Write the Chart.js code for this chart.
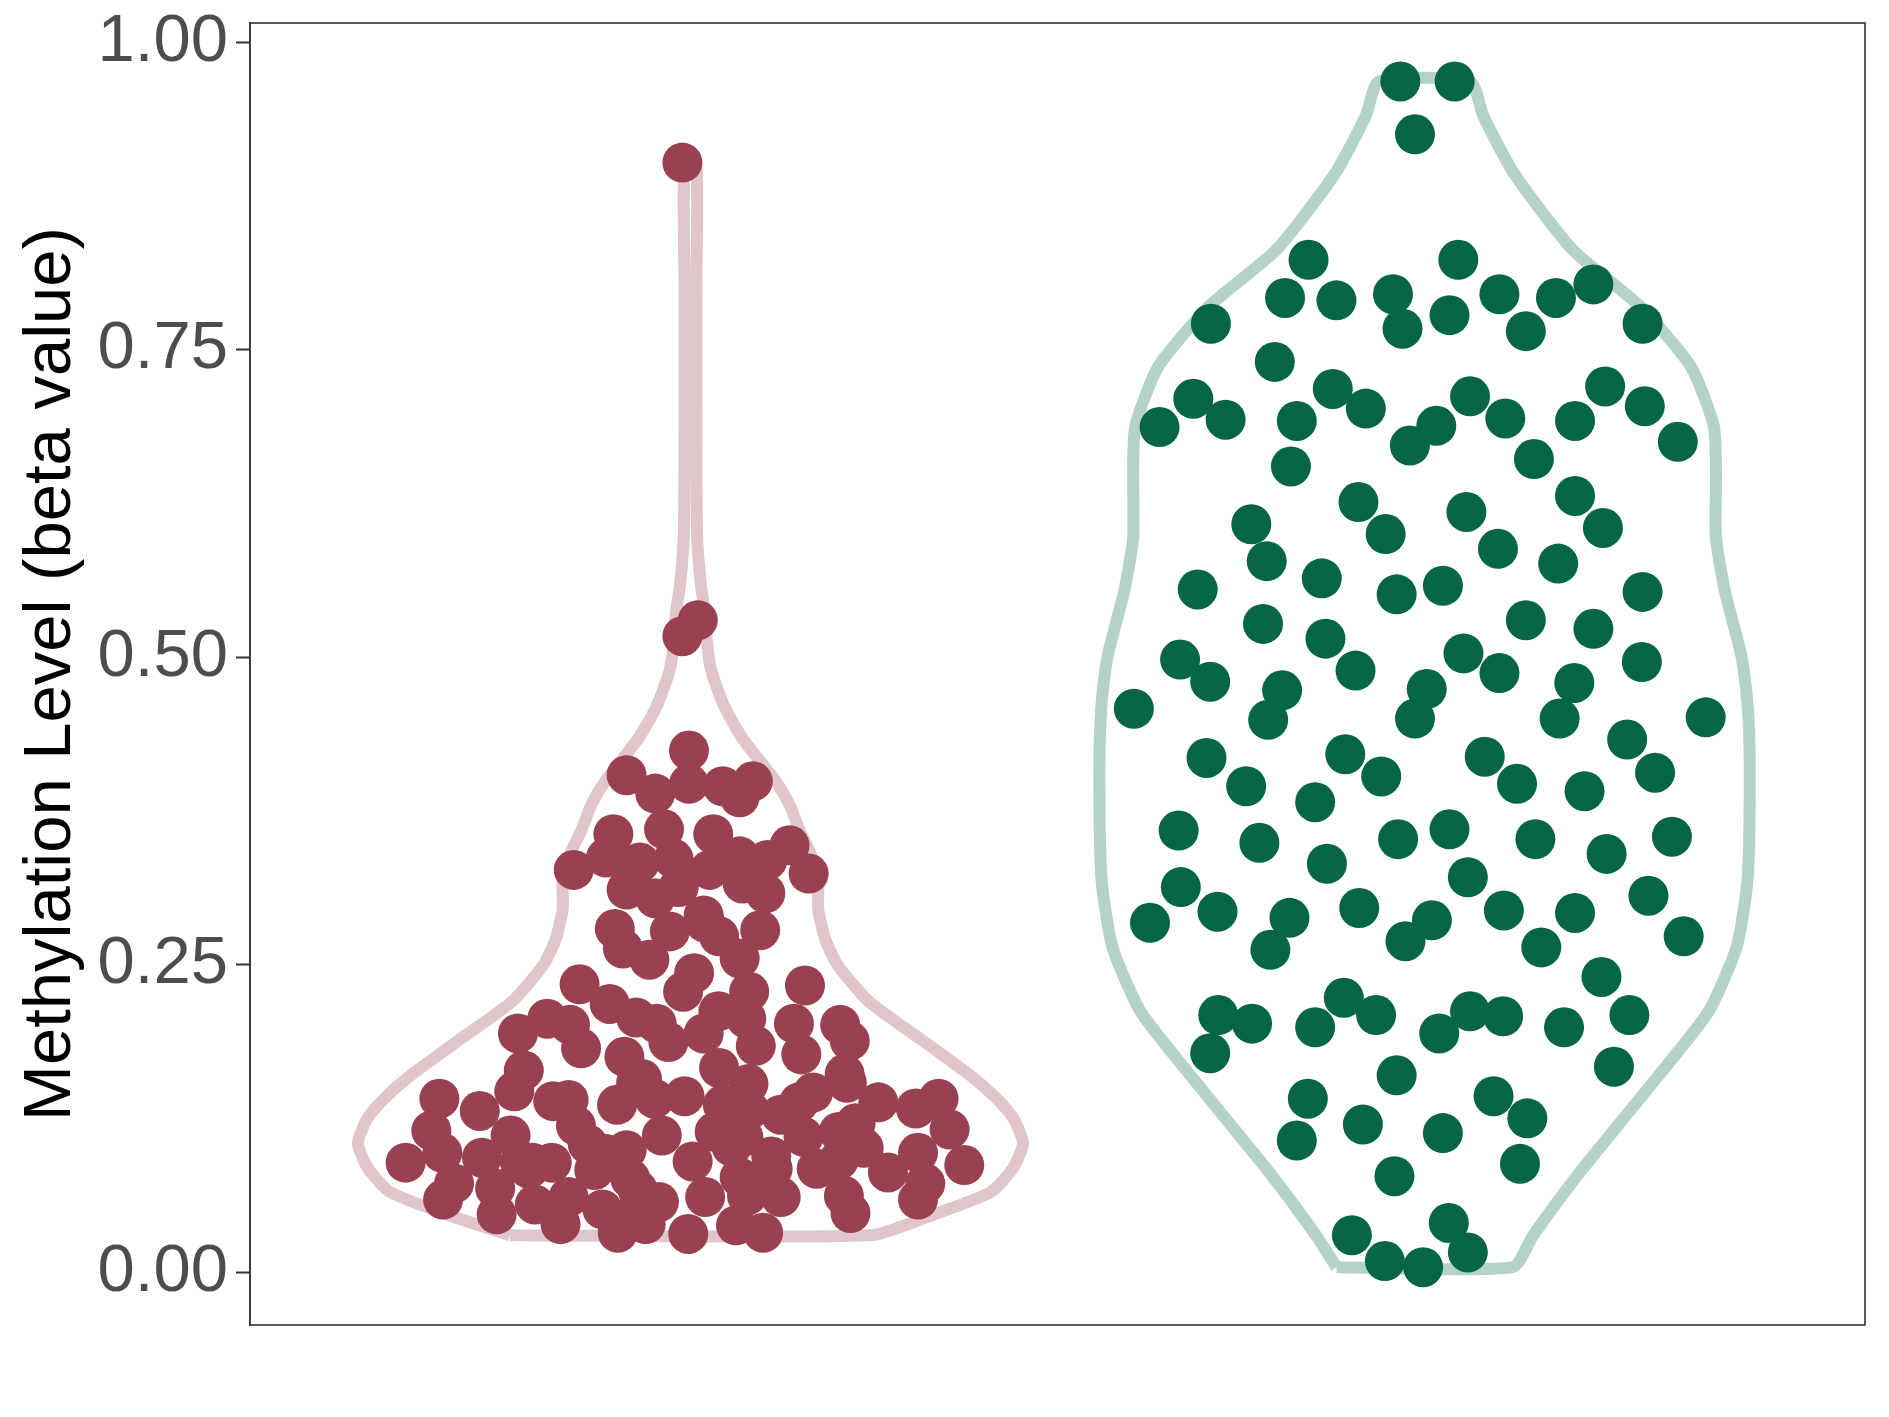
<!DOCTYPE html>
<html>
<head>
<meta charset="utf-8">
<script src="https://cdn.jsdelivr.net/npm/chart.js@4.4.1/dist/chart.umd.min.js"></script>
<style>
  html, body { margin: 0; padding: 0; background: #ffffff; }
</style>
</head>
<body>
<canvas id="graficoViolino" width="1889" height="1417"></canvas>
<script>
// valores de metilação (beta) e deslocamento horizontal (jitter) de cada ponto
const redBeta = [
  0.902,0.517,0.530,0.424,0.404,0.389,0.397,0.395,0.399,0.386,
  0.360,0.356,0.356,0.347,0.337,0.333,0.336,0.338,0.335,0.327,
  0.324,0.327,0.311,0.304,0.316,0.308,0.279,0.277,0.284,0.273,
  0.278,0.263,0.254,0.255,0.243,0.234,0.228,0.228,0.233,0.218,
  0.207,0.212,0.206,0.201,0.202,0.206,0.202,0.201,0.194,0.182,
  0.175,0.187,0.194,0.184,0.177,0.188,0.166,0.164,0.157,0.161,
  0.147,0.140,0.136,0.141,0.143,0.153,0.146,0.138,0.141,0.131,
  0.139,0.136,0.132,0.128,0.138,0.133,0.141,0.119,0.111,0.115,
  0.121,0.116,0.104,0.111,0.114,0.110,0.110,0.114,0.101,0.097,
  0.093,0.089,0.096,0.099,0.102,0.094,0.089,0.072,0.068,0.084,
  0.089,0.083,0.076,0.090,0.077,0.084,0.084,0.081,0.097,0.087,
  0.072,0.059,0.047,0.055,0.061,0.051,0.067,0.057,0.061,0.062,
  0.061,0.062,0.059,0.039,0.032,0.039,0.031,0.038,0.032,0.048,
  0.052,0.313,0.290,0.089,0.091,0.154,0.154
];
const redJitter = [
  -0.011,-0.011,0.010,-0.002,-0.087,-0.048,-0.002,0.044,0.085,0.067,
  -0.036,-0.105,0.031,0.135,-0.115,-0.069,-0.023,0.067,0.105,-0.159,
  0.161,0.026,-0.087,-0.048,0.071,0.102,-0.103,-0.028,0.020,0.039,
  0.095,-0.092,-0.056,0.067,0.005,-0.151,-0.010,0.080,0.156,-0.110,
  -0.074,0.038,-0.195,-0.164,-0.046,0.076,0.141,0.204,-0.235,-0.149,
  -0.090,-0.030,0.018,0.089,0.151,0.217,0.039,-0.227,-0.066,0.210,
  -0.240,-0.166,-0.100,-0.049,-0.008,0.079,0.167,0.256,-0.342,-0.287,
  -0.187,0.044,0.080,0.123,0.148,0.307,0.338,-0.156,-0.245,-0.353,
  0.225,0.353,-0.140,-0.039,0.033,0.072,0.154,0.202,0.236,-0.338,
  -0.284,-0.215,-0.115,-0.087,0.056,0.110,-0.388,-0.322,-0.266,-0.220,
  -0.189,-0.131,-0.082,0.003,0.067,0.112,0.172,0.269,0.310,0.373,
  0.320,-0.337,-0.264,-0.212,-0.166,-0.120,-0.072,-0.043,0.020,0.077,
  0.123,0.209,0.310,-0.177,-0.099,-0.061,-0.003,0.062,0.099,0.218,
  -0.071,-0.016,0.018,-0.232,0.202,-0.074,0.213
];

const greenBeta = [
  0.968,0.968,0.925,0.823,0.823,0.792,0.790,0.795,0.795,0.792,
  0.803,0.771,0.767,0.778,0.765,0.771,0.740,0.710,0.718,0.693,
  0.687,0.692,0.702,0.712,0.694,0.720,0.692,0.704,0.655,0.672,
  0.688,0.675,0.661,0.626,0.618,0.631,0.608,0.600,0.605,0.578,
  0.588,0.576,0.564,0.555,0.551,0.558,0.553,0.527,0.530,0.523,
  0.515,0.498,0.489,0.503,0.487,0.496,0.480,0.473,0.474,0.479,
  0.458,0.449,0.450,0.450,0.451,0.433,0.418,0.421,0.419,0.403,
  0.406,0.395,0.397,0.391,0.382,0.359,0.360,0.349,0.352,0.352,
  0.354,0.340,0.332,0.313,0.321,0.306,0.293,0.296,0.294,0.292,
  0.284,0.288,0.286,0.269,0.264,0.273,0.262,0.240,0.223,0.209,
  0.209,0.212,0.208,0.209,0.202,0.199,0.194,0.199,0.178,0.167,
  0.160,0.141,0.143,0.125,0.120,0.113,0.107,0.088,0.078,0.030,
  0.040,0.009,0.004,0.016
];
const greenJitter = [
  -0.033,0.041,-0.013,-0.158,0.046,-0.190,-0.120,-0.043,0.102,0.179,
  0.230,-0.291,-0.030,0.034,0.138,0.297,-0.204,-0.315,-0.125,-0.271,
  -0.361,-0.174,-0.080,0.062,0.110,0.246,0.205,0.300,-0.182,-0.020,
  0.016,0.345,0.149,-0.090,0.057,0.205,-0.236,-0.053,0.243,-0.215,
  0.100,0.182,-0.140,-0.309,-0.038,0.025,0.297,-0.220,0.138,0.230,
  -0.135,-0.333,-0.094,0.053,0.102,0.296,-0.292,-0.194,0.003,0.204,
  -0.396,-0.213,-0.013,0.184,0.383,0.276,-0.297,-0.108,0.082,-0.059,
  0.314,-0.243,0.126,0.218,-0.149,-0.335,0.034,-0.225,-0.036,0.151,
  0.337,0.248,-0.133,-0.332,0.059,0.305,-0.282,-0.089,0.108,0.205,
  -0.374,-0.184,0.010,-0.026,0.159,0.353,-0.210,0.241,-0.110,-0.281,
  -0.066,0.062,0.107,0.279,-0.235,-0.149,0.020,0.190,-0.292,0.258,
  -0.038,-0.159,0.094,0.140,-0.084,0.025,-0.174,0.130,-0.041,-0.099,
  0.033,-0.054,-0.002,0.059
];

// contorno dos violinos: níveis de beta e meia-largura da densidade
const redLevels = [0.030,0.045,0.065,0.085,0.105,0.125,0.140,0.160,0.190,0.220,0.250,0.270,0.295,0.320,0.340,0.360,0.380,0.400,0.433,0.460,0.490,0.515,0.535,0.560,0.600,0.700,0.800,0.902];
const redHalf   = [0.246,0.323,0.409,0.440,0.453,0.440,0.419,0.381,0.312,0.243,0.200,0.184,0.174,0.174,0.164,0.148,0.135,0.115,0.072,0.046,0.028,0.022,0.020,0.014,0.009,0.008,0.008,0.008];

const greenLevels = [0.004,0.030,0.080,0.146,0.211,0.264,0.319,0.408,0.462,0.500,0.554,0.597,0.652,0.688,0.736,0.785,0.831,0.893,0.940,0.968];
const greenHalf   = [0.120,0.148,0.210,0.300,0.386,0.425,0.440,0.443,0.440,0.432,0.409,0.397,0.397,0.394,0.363,0.294,0.202,0.122,0.080,0.062];

const yTicks = [0, 0.25, 0.5, 0.75, 1];
const fonte = "'Liberation Sans', Arial, Helvetica, sans-serif";

function pontos(centro, beta, jitter) {
    return beta.map((v, i) => ({ x: centro + jitter[i], y: v }));
}

function contorno(centro, niveis, meia) {
    let lado = [];
    for (let i = 0; i < niveis.length; i++) {
        lado.push({ x: centro - meia[i], y: niveis[i] });
    }
    for (let i = niveis.length - 1; i >= 0; i--) {
        lado.push({ x: centro + meia[i], y: niveis[i] });
    }
    lado.push(lado[0]);
    return lado;
}

// moldura em volta da área do gráfico
const moldura = {
    id: 'moldura',
    afterDatasetsDraw(chart) {
        const { ctx, chartArea: a } = chart;
        ctx.save();
        ctx.strokeStyle = '#333333';
        ctx.lineWidth = 1.6;
        ctx.strokeRect(a.left, a.top, a.right - a.left, a.bottom - a.top);
        ctx.restore();
    }
};

const ctx = document.getElementById('graficoViolino').getContext('2d');
new Chart(ctx, {
    type: 'scatter',
    data: {
        datasets: [
            {
                data: pontos(1, redBeta, redJitter),
                pointRadius: 20,
                pointBackgroundColor: '#9a4151',
                pointBorderColor: '#9a4151',
                pointBorderWidth: 0,
                showLine: false,
                order: 0
            },
            {
                data: pontos(2, greenBeta, greenJitter),
                pointRadius: 20,
                pointBackgroundColor: '#046644',
                pointBorderColor: '#046644',
                pointBorderWidth: 0,
                showLine: false,
                order: 0
            },
            {
                data: contorno(1, redLevels, redHalf),
                showLine: true,
                borderColor: '#e0c5cb',
                borderWidth: 12,
                borderJoinStyle: 'round',
                pointRadius: 0,
                tension: 0.2,
                fill: false,
                order: 1
            },
            {
                data: contorno(2, greenLevels, greenHalf),
                showLine: true,
                borderColor: '#b5d2c7',
                borderWidth: 12,
                borderJoinStyle: 'round',
                pointRadius: 0,
                tension: 0.2,
                fill: false,
                order: 1
            }
        ]
    },
    options: {
        responsive: false,
        animation: false,
        devicePixelRatio: 1,
        events: [],
        layout: { padding: { top: 23, right: 24, bottom: 92, left: 0 } },
        plugins: {
            legend: { display: false },
            tooltip: { enabled: false }
        },
        scales: {
            x: {
                type: 'linear',
                min: 0.4,
                max: 2.6,
                display: false
            },
            y: {
                type: 'linear',
                min: -0.043,
                max: 1.0155,
                afterBuildTicks: (s) => { s.ticks = yTicks.map(v => ({ value: v })); },
                afterFit: (s) => {
                    s.width = 250;
                    s.paddingTop = 0;
                    s.paddingBottom = 0;
                },
                ticks: {
                    callback: (v) => Number(v).toFixed(2),
                    font: { family: fonte, size: 67 },
                    color: '#4d4d4d',
                    padding: 8
                },
                grid: {
                    drawOnChartArea: false,
                    tickLength: 14,
                    tickWidth: 2,
                    color: '#333333'
                },
                border: { display: true, color: '#333333', width: 1.6 },
                title: {
                    display: true,
                    text: 'Methylation Level (beta value)',
                    font: { family: fonte, size: 67 },
                    color: '#000000',
                    padding: { top: 11, bottom: 0 }
                }
            }
        }
    },
    plugins: [moldura]
});
</script>
</body>
</html>
